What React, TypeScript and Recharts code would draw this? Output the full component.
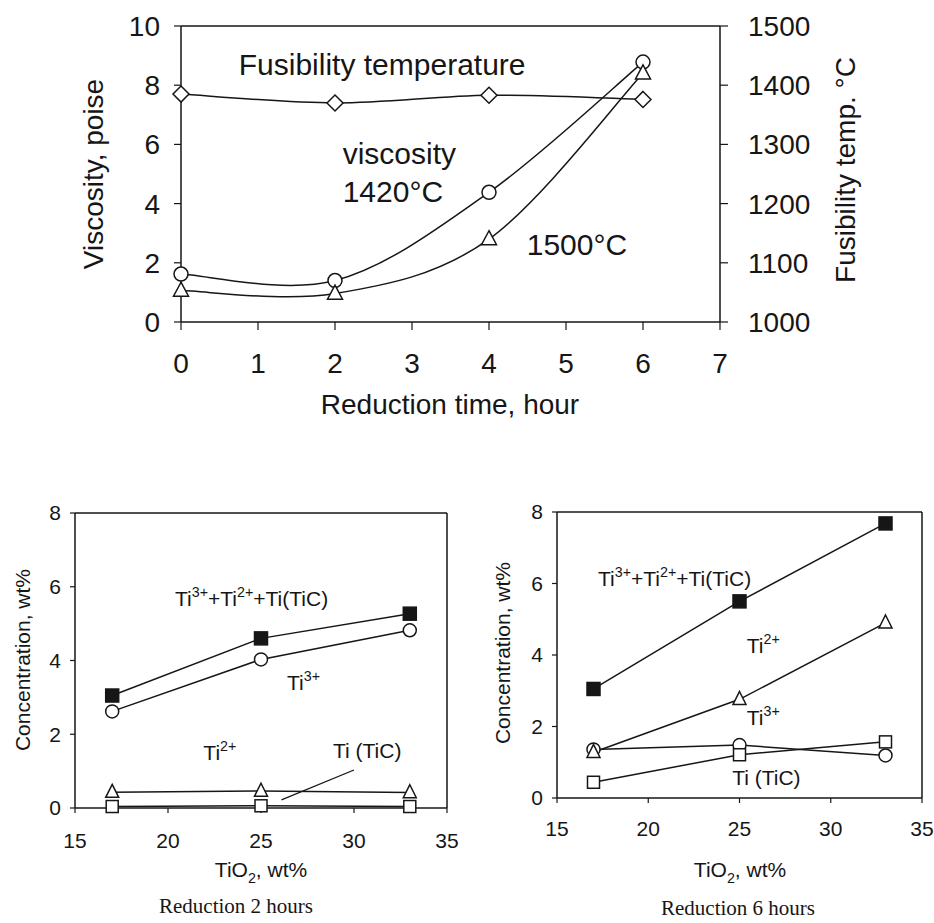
import React from 'react';
import { LineChart, Line, XAxis, YAxis, ReferenceLine, ReferenceDot } from 'recharts';

// ---------- data: top chart ----------
const hours = [0, 2, 4, 6];
const fusibilityTemp = [1385, 1370, 1383, 1376];
const viscosity1420 = [1.62, 1.4, 4.38, 8.78];
const viscosity1500 = [1.06, 0.96, 2.8, 8.4];
const hourTicks = [0, 1, 2, 3, 4, 5, 6, 7];
const viscosityTicks = [0, 2, 4, 6, 8, 10];
const tempTicks = [1000, 1100, 1200, 1300, 1400, 1500];

// ---------- data: bottom charts ----------
const tio2 = [17, 25, 33];
const total2h = [3.05, 4.6, 5.27];
const ti3plus2h = [2.62, 4.03, 4.82];
const ti2plus2h = [0.43, 0.46, 0.42];
const tiTiC2h = [0.04, 0.06, 0.04];
const total6h = [3.05, 5.5, 7.68];
const ti2plus6h = [1.28, 2.76, 4.9];
const ti3plus6h = [1.36, 1.48, 1.19];
const tiTiC6h = [0.44, 1.21, 1.57];
const tio2Ticks = [15, 20, 25, 30, 35];
const concTicks = [0, 2, 4, 6, 8];

const topRows = hours.map((h, i) => ({
  h,
  temp: fusibilityTemp[i],
  v1420: viscosity1420[i],
  v1500: viscosity1500[i],
}));
const rows2h = tio2.map((x, i) => ({
  x,
  total: total2h[i],
  ti3: ti3plus2h[i],
  ti2: ti2plus2h[i],
  tic: tiTiC2h[i],
}));
const rows6h = tio2.map((x, i) => ({
  x,
  total: total6h[i],
  ti3: ti3plus6h[i],
  ti2: ti2plus6h[i],
  tic: tiTiC6h[i],
}));

const SANS = '"Liberation Sans", Arial, Helvetica, sans-serif';
const SERIF = '"Liberation Serif", "Times New Roman", serif';
const INK = '#161616';

// Excel-like smoothed line (Catmull-Rom as cubic Bezier)
const excelSmooth = (context: any) => {
  let pts: number[][] = [];
  return {
    areaStart() {},
    areaEnd() {},
    lineStart() {
      pts = [];
    },
    point(x: number, y: number) {
      pts.push([x, y]);
    },
    lineEnd() {
      const n = pts.length;
      if (!n) return;
      context.moveTo(pts[0][0], pts[0][1]);
      for (let i = 0; i < n - 1; i++) {
        const p0 = pts[Math.max(i - 1, 0)];
        const p1 = pts[i];
        const p2 = pts[i + 1];
        const p3 = pts[Math.min(i + 2, n - 1)];
        const c1x = p1[0] + (p2[0] - p0[0]) / 6;
        const c1y = p1[1] + (p2[1] - p0[1]) / 6;
        const c2x = p2[0] - (p3[0] - p1[0]) / 6;
        const c2y = p2[1] - (p3[1] - p1[1]) / 6;
        context.bezierCurveTo(c1x, c1y, c2x, c2y, p2[0], p2[1]);
      }
    },
  };
};

// ---------- markers ----------
const circleDot = (r: number) => (p: any) => (
  <circle key={`c${p.index}`} cx={p.cx} cy={p.cy} r={r} fill="#fff" stroke={INK} strokeWidth={1.5} />
);
const diamondDot = (s: number) => (p: any) => (
  <polygon
    key={`d${p.index}`}
    points={`${p.cx},${p.cy - s} ${p.cx + s},${p.cy} ${p.cx},${p.cy + s} ${p.cx - s},${p.cy}`}
    fill="#fff"
    stroke={INK}
    strokeWidth={1.5}
  />
);
const triangleDot = (w: number, h: number) => (p: any) => (
  <polygon
    key={`t${p.index}`}
    points={`${p.cx},${p.cy - h * 0.6} ${p.cx + w / 2},${p.cy + h * 0.4} ${p.cx - w / 2},${p.cy + h * 0.4}`}
    fill="#fff"
    stroke={INK}
    strokeWidth={1.5}
  />
);
const squareDot = (s: number, filled: boolean) => (p: any) => (
  <rect
    key={`s${p.index}`}
    x={p.cx - s / 2}
    y={p.cy - s / 2}
    width={s}
    height={s}
    fill={filled ? INK : '#fff'}
    stroke={INK}
    strokeWidth={1.5}
  />
);

// ---------- text helpers ----------
type Part = { t: string; s?: 'sup' | 'sub' };
const richText = (parts: Part[], x: number, y: number, size: number, anchor: string = 'start', key?: string) => {
  let cur = 0;
  return (
    <text key={key} x={x} y={y} fontSize={size} fontFamily={SANS} fill={INK} textAnchor={anchor}>
      {parts.map((p, i) => {
        const target = p.s === 'sup' ? -0.42 * size : p.s === 'sub' ? 0.28 * size : 0;
        const dy = target - cur;
        cur = target;
        return (
          <tspan key={i} dy={dy} fontSize={p.s ? size * 0.68 : size}>
            {p.t}
          </tspan>
        );
      })}
    </text>
  );
};

const noteLabel = (parts: Part[], size: number, anchor: string = 'start') => (props: any) => {
  const vb = props && props.viewBox ? props.viewBox : props;
  const x = (vb.x ?? 0) + (vb.width ?? 0) / 2;
  const y = (vb.y ?? 0) + (vb.height ?? 0) / 2;
  return richText(parts, x, y, size, anchor);
};

const vTitle = (text: string, baseX: number, centerY: number, size: number) => () => (
  <text
    transform={`translate(${baseX},${centerY}) rotate(-90)`}
    textAnchor="middle"
    fontSize={size}
    fontFamily={SANS}
    fill={INK}
  >
    {text}
  </text>
);
const hTitle = (parts: Part[], centerX: number, baseY: number, size: number) => () =>
  richText(parts, centerX, baseY, size, 'middle');

const note = (key: string, x: number, y: number, parts: Part[], size: number, yAxisId?: string) => (
  <ReferenceDot
    key={key}
    {...(yAxisId ? { yAxisId } : {})}
    x={x}
    y={y}
    r={0}
    fill="none"
    stroke="none"
    ifOverflow="visible"
    label={noteLabel(parts, size)}
  />
);

const TOP_FONT = 28;
const NOTE_FONT = 30;
const BOT_FONT = 21;

const axisCommon = {
  stroke: INK,
  axisLine: { stroke: INK, strokeWidth: 1.5 },
  tickLine: { stroke: INK, strokeWidth: 1.2 },
  interval: 0 as const,
};

function TopChart() {
  return (
    <LineChart
      width={934}
      height={440}
      data={topRows}
      margin={{ top: 26, right: 94, bottom: 18, left: 0 }}
    >
      <XAxis
        type="number"
        dataKey="h"
        domain={[0, 7]}
        ticks={hourTicks}
        {...axisCommon}
        height={100}
        tickSize={8}
        tickMargin={23}
        tick={{ fill: INK, fontSize: TOP_FONT, fontFamily: SANS }}
        label={hTitle([{ t: 'Reduction time, hour' }], 450, 414, TOP_FONT)}
      />
      <YAxis
        yAxisId="left"
        type="number"
        domain={[0, 10]}
        ticks={viscosityTicks}
        {...axisCommon}
        width={181}
        tickSize={7}
        tickMargin={14}
        tick={{ fill: INK, fontSize: TOP_FONT, fontFamily: SANS }}
        label={vTitle('Viscosity, poise', 103, 174, TOP_FONT)}
      />
      <YAxis
        yAxisId="right"
        orientation="right"
        type="number"
        domain={[1000, 1500]}
        ticks={tempTicks}
        {...axisCommon}
        width={120}
        tickSize={8}
        tickMargin={20}
        tick={{ fill: INK, fontSize: TOP_FONT, fontFamily: SANS }}
        label={vTitle('Fusibility temp. \u00B0C', 855, 170, TOP_FONT)}
      />
      <ReferenceLine yAxisId="left" y={10} stroke={INK} strokeWidth={1.5} />
      <Line
        yAxisId="right"
        dataKey="temp"
        type={excelSmooth as any}
        stroke={INK}
        strokeWidth={1.5}
        dot={diamondDot(8)}
        activeDot={false}
        isAnimationActive={false}
      />
      <Line
        yAxisId="left"
        dataKey="v1420"
        type={excelSmooth as any}
        stroke={INK}
        strokeWidth={1.5}
        dot={circleDot(7)}
        activeDot={false}
        isAnimationActive={false}
      />
      <Line
        yAxisId="left"
        dataKey="v1500"
        type={excelSmooth as any}
        stroke={INK}
        strokeWidth={1.5}
        dot={triangleDot(15, 14)}
        activeDot={false}
        isAnimationActive={false}
      />
      {note('n1', 0.75, 8.33, [{ t: 'Fusibility temperature' }], NOTE_FONT, 'left')}
      {note('n2', 2.1, 5.34, [{ t: 'viscosity' }], NOTE_FONT, 'left')}
      {note('n3', 2.1, 4.05, [{ t: '1420\u00B0C' }], NOTE_FONT, 'left')}
      {note('n4', 4.49, 2.26, [{ t: '1500\u00B0C' }], NOTE_FONT, 'left')}
    </LineChart>
  );
}

const totalParts: Part[] = [
  { t: 'Ti' },
  { t: '3+', s: 'sup' },
  { t: '+Ti' },
  { t: '2+', s: 'sup' },
  { t: '+Ti(TiC)' },
];
const ti3Parts: Part[] = [{ t: 'Ti' }, { t: '3+', s: 'sup' }];
const ti2Parts: Part[] = [{ t: 'Ti' }, { t: '2+', s: 'sup' }];
const ticParts: Part[] = [{ t: 'Ti (TiC)' }];
const tio2Title: Part[] = [{ t: 'TiO' }, { t: '2', s: 'sub' }, { t: ', wt%' }];

function ConcChart(props: {
  rows: any[];
  width: number;
  margin: any;
  yWidth: number;
  xTickMargin: number;
  yTitleX: number;
  yTitleY: number;
  xTitleX: number;
  notes: React.ReactNode[];
  extra?: React.ReactNode;
}) {
  const { rows, width, margin, yWidth, xTickMargin, yTitleX, yTitleY, xTitleX, notes, extra } = props;
  return (
    <LineChart width={width} height={463} data={rows} margin={margin}>
      <XAxis
        type="number"
        dataKey="x"
        domain={[15, 35]}
        ticks={tio2Ticks}
        {...axisCommon}
        height={60}
        tickSize={5}
        tickMargin={xTickMargin}
        tick={{ fill: INK, fontSize: BOT_FONT, fontFamily: SANS }}
        label={hTitle(tio2Title, xTitleX, 417, BOT_FONT)}
      />
      <YAxis
        type="number"
        domain={[0, 8]}
        ticks={concTicks}
        {...axisCommon}
        width={yWidth}
        tickSize={5}
        tickMargin={9}
        tick={{ fill: INK, fontSize: BOT_FONT, fontFamily: SANS }}
        label={vTitle('Concentration, wt%', yTitleX, yTitleY, BOT_FONT)}
      />
      <ReferenceLine y={8} stroke={INK} strokeWidth={1.5} />
      <ReferenceLine x={35} stroke={INK} strokeWidth={1.5} />
      {extra}
      <Line
        dataKey="total"
        type="linear"
        stroke={INK}
        strokeWidth={1.5}
        dot={squareDot(13, true)}
        activeDot={false}
        isAnimationActive={false}
      />
      <Line
        dataKey="ti3"
        type="linear"
        stroke={INK}
        strokeWidth={1.5}
        dot={circleDot(6.5)}
        activeDot={false}
        isAnimationActive={false}
      />
      <Line
        dataKey="ti2"
        type="linear"
        stroke={INK}
        strokeWidth={1.5}
        dot={triangleDot(13, 13)}
        activeDot={false}
        isAnimationActive={false}
      />
      <Line
        dataKey="tic"
        type="linear"
        stroke={INK}
        strokeWidth={1.5}
        dot={squareDot(12, false)}
        activeDot={false}
        isAnimationActive={false}
      />
      {notes}
    </LineChart>
  );
}

export default function App() {
  return (
    <div
      style={{
        position: 'absolute',
        left: 0,
        top: 0,
        width: 934,
        height: 923,
        background: '#fff',
        overflow: 'hidden',
      }}
    >
      <div style={{ position: 'absolute', left: 0, top: 0 }}>
        <TopChart />
      </div>
      <div style={{ position: 'absolute', left: 0, top: 460 }}>
        <ConcChart
          rows={rows2h}
          width={467}
          margin={{ top: 53, right: 20, bottom: 55, left: 0 }}
          yWidth={75}
          xTickMargin={20}
          yTitleX={30}
          yTitleY={200}
          xTitleX={261}
          extra={
            <ReferenceLine
              segment={[
                { x: 26.1, y: 0.22 },
                { x: 30.0, y: 1.03 },
              ]}
              stroke={INK}
              strokeWidth={1.3}
            />
          }
          notes={[
            note('a1', 20.38, 5.47, totalParts, BOT_FONT),
            note('a2', 26.4, 3.2, ti3Parts, BOT_FONT),
            note('a3', 21.9, 1.3, ti2Parts, BOT_FONT),
            note('a4', 28.87, 1.36, ticParts, BOT_FONT),
          ]}
        />
      </div>
      <div style={{ position: 'absolute', left: 470, top: 460 }}>
        <ConcChart
          rows={rows6h}
          width={464}
          margin={{ top: 52, right: 12, bottom: 65, left: 0 }}
          yWidth={87}
          xTickMargin={18}
          yTitleX={40}
          yTitleY={193}
          xTitleX={270}
          notes={[
            note('b1', 17.25, 5.93, totalParts, BOT_FONT),
            note('b2', 25.4, 4.06, ti2Parts, BOT_FONT),
            note('b3', 25.4, 2.04, ti3Parts, BOT_FONT),
            note('b4', 24.6, 0.36, ticParts, BOT_FONT),
          ]}
        />
      </div>
      <svg
        width={934}
        height={923}
        style={{ position: 'absolute', left: 0, top: 0, pointerEvents: 'none' }}
      >
        <text x={236} y={913} textAnchor="middle" fontSize={21} fontFamily={SERIF} fill={INK}>
          Reduction 2 hours
        </text>
        <text x={738} y={915} textAnchor="middle" fontSize={21} fontFamily={SERIF} fill={INK}>
          Reduction 6 hours
        </text>
      </svg>
    </div>
  );
}
